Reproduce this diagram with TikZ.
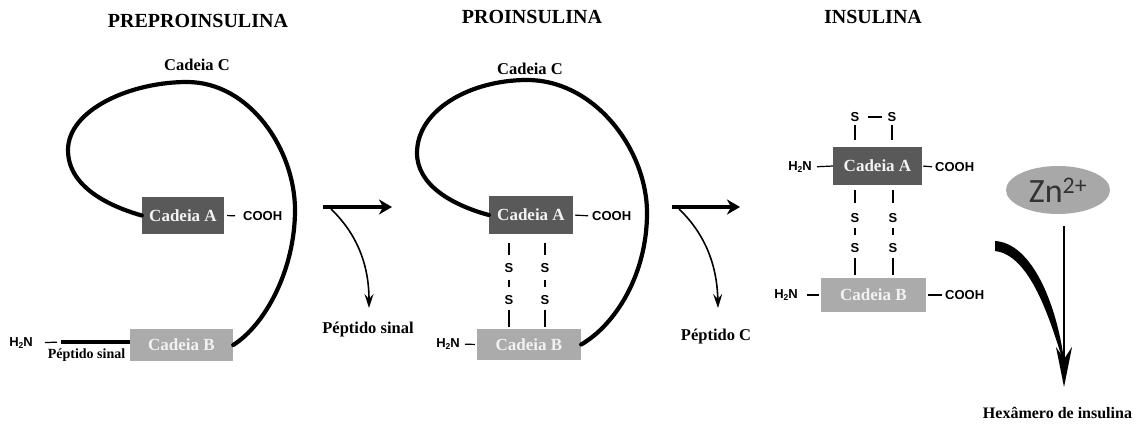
\documentclass[tikz,border=0pt]{standalone}
\usepackage{fontspec}
\setmainfont{Liberation Serif}
\setsansfont{Liberation Sans}
\newfontfamily\calib{Carlito}
\usetikzlibrary{arrows.meta,shapes.geometric}
\definecolor{boxdark}{HTML}{595959}
\definecolor{boxlight}{HTML}{ABABAB}
\definecolor{boxtext}{HTML}{F2F2F2}
\definecolor{zngray}{HTML}{A8A8A8}
\definecolor{zntext}{HTML}{333333}
\newcommand\Htwo{H\raisebox{-0.35ex}{\fontsize{8.5}{8.5}\selectfont 2}N}
\begin{document}
\begin{tikzpicture}[x=1pt,y=-1pt,
 title/.style={font=\fontsize{20}{20}\selectfont\bfseries, anchor=base, inner sep=0},
 lab/.style={font=\fontsize{16.5}{16.5}\selectfont\bfseries, anchor=base, inner sep=0},
 chA/.style={fill=boxdark, text=boxtext, inner sep=0, font=\fontsize{17}{17}\selectfont\bfseries},
 chB/.style={fill=boxlight, text=boxtext, inner sep=0, font=\fontsize{17}{17}\selectfont\bfseries},
 chem/.style={font=\sffamily\bfseries\fontsize{13}{13}\selectfont, inner sep=0},
 sul/.style={font=\sffamily\bfseries\fontsize{13}{13}\selectfont, inner sep=0},
 bond/.style={line width=1.2pt, black},
 chain/.style={line width=4.2pt, line cap=round},
 thickarr/.style={line width=4pt, -{Stealth[length=13pt,width=15pt,inset=4pt]}},
 thinarr/.style={line width=1.6pt, -{Stealth[length=14pt,width=9pt,inset=5pt]}},
 ]
\useasboundingbox (0,0) rectangle (1145,423);
\fill[white] (0,0) rectangle (1145,423);

% ---------- PREPROINSULINA ----------
\node[title] (t1) at (198,27.5) {PREPROINSULINA};
\node[lab] (cc1) at (197,70.5) {Cadeia C};
\node[chA, minimum width=82, minimum height=37] (pA) at (183,215.5) {Cadeia A};
\node[chB, minimum width=103, minimum height=32] (pB) at (181.5,345) {Cadeia B};
\node[chem, anchor=west] (pAc) at (243,216) {COOH};
\draw[bond, shorten <=3, shorten >=8] (pA.east) -- (pAc.west);
\coordinate (sig) at (61,342);
\draw[line width=4pt] (sig) -- (pB.west |- sig);
\node[chem, anchor=east] (pH) at (33,343) {\Htwo};
\draw[bond, shorten <=12, shorten >=4] (pH.east) -- (sig);
\node[font=\fontsize{14}{14}\selectfont\bfseries, anchor=base, inner sep=0] (psl) at (86.5,358) {Péptido sinal};
\draw[chain] (pA.west) .. controls (105,205) and (68,185) .. (68,150)
  .. controls (68,110) and (130,82) .. (187,82)
  .. controls (250,82) and (295,150) .. (295,210)
  .. controls (295,270) and (265,325) .. (pB.east);

% arrow 1
\coordinate (r1s) at (323,207);
\coordinate (r1e) at (392,207);
\draw[thickarr] (r1s) -- (r1e);
\coordinate (b1s) at (331,209);
\coordinate (b1e) at (369,308);
\draw[thinarr] (b1s) .. controls (355,232) and (369,262) .. (b1e);
\node[lab] (l1) at (368,333) {Péptido sinal};

% ---------- PROINSULINA ----------
\node[title] (t2) at (532,23.3) {PROINSULINA};
\node[lab] (cc2) at (530,74) {Cadeia C};
\node[chA, minimum width=84, minimum height=38] (qA) at (531,215) {Cadeia A};
\node[chB, minimum width=104, minimum height=31] (qB) at (529,344.5) {Cadeia B};
\node[chem, anchor=west] (qAc) at (592,216) {COOH};
\draw[bond, shorten <=2, shorten >=4] (qA.east) -- (qAc.west);
\node[chem, anchor=east] (qH) at (460,344) {\Htwo};
\draw[bond, shorten <=5, shorten >=2] (qH.east) -- (qB.west);
\node[sul] (q1) at (509,268) {S};
\node[sul] (q2) at (509,300) {S};
\node[sul] (q3) at (545,268) {S};
\node[sul] (q4) at (545,300) {S};
\draw[bond, shorten <=9, shorten >=8] (qA.south -| q1) -- (q1.north);
\draw[bond, shorten <=7, shorten >=8] (q1.south) -- (q2.north);
\draw[bond, shorten <=5, shorten >=2] (q2.south) -- (qB.north -| q2);
\draw[bond, shorten <=9, shorten >=8] (qA.south -| q3) -- (q3.north);
\draw[bond, shorten <=7, shorten >=8] (q3.south) -- (q4.north);
\draw[bond, shorten <=5, shorten >=2] (q4.south) -- (qB.north -| q4);
\draw[chain] (qA.west) .. controls (452,205) and (417,185) .. (417,153)
  .. controls (417,110) and (470,80) .. (527,80)
  .. controls (595,80) and (647,150) .. (647,213)
  .. controls (647,275) and (615,325) .. (qB.east);

% arrow 2
\coordinate (r2s) at (672,207);
\coordinate (r2e) at (740,207);
\draw[thickarr] (r2s) -- (r2e);
\coordinate (b2s) at (679,209);
\coordinate (b2e) at (718,308);
\draw[thinarr] (b2s) .. controls (703,232) and (717,262) .. (b2e);
\node[lab] (l2) at (716,340) {Péptido C};

% ---------- INSULINA ----------
\node[title] (t3) at (873,23.3) {INSULINA};
\node[chA, minimum width=89, minimum height=38] (iA) at (877.5,166) {Cadeia A};
\node[chB, minimum width=105, minimum height=34] (iB) at (873.5,295) {Cadeia B};
\node[chem, anchor=east] (iAh) at (812,167) {\Htwo};
\draw[bond, shorten <=5] (iAh.east) -- (iA.west);
\node[chem, anchor=west] (iAc) at (935,167) {COOH};
\draw[bond, shorten <=1, shorten >=3] (iA.east) -- (iAc.west);
\node[chem, anchor=east] (iBh) at (798,295) {\Htwo};
\draw[bond, shorten <=9, shorten >=2] (iBh.east) -- (iB.west);
\node[chem, anchor=west] (iBc) at (945,295) {COOH};
\draw[bond, shorten <=2, shorten >=3] (iB.east) -- (iBc.west);
\node[sul] (u1) at (855,117) {S};
\node[sul] (u2) at (892,117) {S};
\draw[bond, shorten <=8, shorten >=5] (u1.east) -- (u2.west);
\draw[bond, shorten <=3, shorten >=7] (u1.south) -- (iA.north -| u1);
\draw[bond, shorten <=3, shorten >=7] (u2.south) -- (iA.north -| u2);
\node[sul] (i1) at (855,218) {S};
\node[sul] (i2) at (855,248) {S};
\node[sul] (i3) at (893,218) {S};
\node[sul] (i4) at (893,248) {S};
\draw[bond, shorten <=5, shorten >=10] (iA.south -| i1) -- (i1.north);
\draw[bond, shorten <=5, shorten >=8] (i1.south) -- (i2.north);
\draw[bond, shorten <=5, shorten >=3] (i2.south) -- (iB.north -| i2);
\draw[bond, shorten <=5, shorten >=10] (iA.south -| i3) -- (i3.north);
\draw[bond, shorten <=5, shorten >=8] (i3.south) -- (i4.north);
\draw[bond, shorten <=5, shorten >=3] (i4.south) -- (iB.north -| i4);

% Zn and hexamer
\node[ellipse, fill=zngray, minimum width=104, minimum height=48, inner sep=0,
      text=zntext, font=\calib\fontsize{34}{34}\selectfont] (zn) at (1058,190) {Zn\textsuperscript{2+}};
\node[lab, font=\fontsize{16}{16}\selectfont\bfseries] (hex) at (1057.5,418) {Hexâmero de insulina};
\coordinate (hexTip) at (1064,387);
\coordinate (c3s) at (995,246);
\fill (c3s) ++(0,-5) .. controls (1032,243) and (1058,305) .. (1065,368)
  .. controls (1050,318) and (1030,255) .. (995,251) -- cycle;
\draw[line width=1.6pt, shorten <=12, -{Stealth[length=40pt,width=16pt,inset=12pt]}] (zn.south -| hexTip) -- (hexTip);
\end{tikzpicture}
\end{document}
